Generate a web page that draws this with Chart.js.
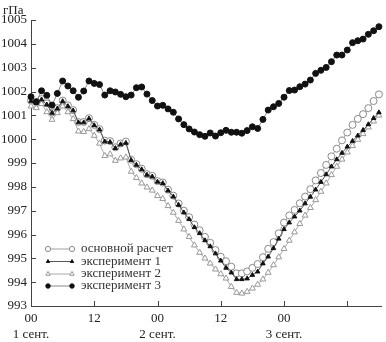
<!DOCTYPE html>
<html>
<head>
<meta charset="utf-8">
<script src="https://cdn.jsdelivr.net/npm/chart.js@4.4.0/dist/chart.umd.min.js"></script>
<style>
  html, body { margin: 0; padding: 0; background: #fff; }
  #wrap { position: relative; width: 386px; height: 342px; }
</style>
</head>
<body>
<div id="wrap"><canvas id="pressureChart"></canvas></div>
<script>
// hourly pressure (hPa), starting at 00 h on 1 Sept
var baseRun = [
  1001.62, 1001.55, 1001.68, 1001.50, 1001.12, 1001.30, 1001.62, 1001.42, 1001.22, 1000.72,
  1000.72, 1000.88, 1000.60, 1000.42, 999.94, 999.92, 999.66, 999.82, 999.90, 999.14,
  998.95, 998.76, 998.53, 998.46, 998.24, 998.18, 997.88, 997.63, 997.30, 997.00,
  996.73, 996.42, 996.18, 995.90, 995.65, 995.35, 995.07, 994.88, 994.65, 994.37,
  994.37, 994.45, 994.60, 994.76, 995.05, 995.40, 995.68, 996.05, 996.50, 996.80,
  997.03, 997.31, 997.59, 997.90, 998.27, 998.58, 998.92, 999.28, 999.60, 999.95,
  1000.28, 1000.60, 1000.85, 1001.05, 1001.30, 1001.60, 1001.88
];
var exp1 = [
  1001.60, 1001.52, 1001.66, 1001.45, 1001.10, 1001.28, 1001.59, 1001.38, 1001.20, 1000.70,
  1000.70, 1000.86, 1000.58, 1000.40, 999.90, 999.88, 999.62, 999.78, 999.84, 999.12,
  998.92, 998.73, 998.50, 998.43, 998.21, 998.15, 997.84, 997.59, 997.24, 996.92,
  996.64, 996.30, 996.05, 995.75, 995.50, 995.20, 994.90, 994.60, 994.40, 994.12,
  994.12, 994.15, 994.30, 994.44, 994.78, 995.07, 995.42, 995.82, 996.22, 996.50,
  996.75, 997.00, 997.30, 997.58, 997.88, 998.20, 998.52, 998.85, 999.15, 999.42,
  999.68, 999.92, 1000.15, 1000.38, 1000.62, 1000.88, 1001.12
];
var exp2 = [
  1001.38, 1001.31, 1001.48, 1001.14, 1000.82, 1001.10, 1001.38, 1001.14, 1000.85, 1000.33,
  1000.31, 1000.43, 1000.15, 999.82, 999.30, 999.37, 999.10, 999.20, 999.24, 998.64,
  998.38, 998.15, 997.98, 997.85, 997.62, 997.50, 997.20, 996.92, 996.58, 996.22,
  995.90, 995.55, 995.24, 995.00, 994.79, 994.54, 994.34, 994.16, 993.81, 993.56,
  993.53, 993.60, 993.74, 993.90, 994.12, 994.40, 994.72, 995.05, 995.40, 995.75,
  996.10, 996.45, 996.80, 997.12, 997.45, 997.80, 998.15, 998.50, 998.85, 999.15,
  999.45, 999.72, 999.98, 1000.22, 1000.50, 1000.75, 1001.00
];
var exp3 = [
  1001.78, 1001.57, 1002.03, 1001.84, 1001.43, 1001.92, 1002.44, 1002.23, 1002.03, 1001.76,
  1002.02, 1002.44, 1002.34, 1002.29, 1001.85, 1002.03, 1001.98, 1001.88, 1001.78, 1001.85,
  1002.16, 1002.19, 1001.89, 1001.62, 1001.39, 1001.42, 1001.27, 1001.13, 1000.85, 1000.61,
  1000.43, 1000.30, 1000.19, 1000.12, 1000.26, 1000.13, 1000.27, 1000.37, 1000.29, 1000.29,
  1000.25, 1000.36, 1000.52, 1000.45, 1000.83, 1001.22, 1001.36, 1001.50, 1001.76, 1002.04,
  1002.06, 1002.20, 1002.31, 1002.48, 1002.76, 1002.89, 1003.01, 1003.25, 1003.53, 1003.53,
  1003.74, 1004.05, 1004.13, 1004.20, 1004.40, 1004.55, 1004.72
];

var seriesNames = ['основной расчет', 'эксперимент 1', 'эксперимент 2', 'эксперимент 3'];
var tickHours = [0, 12, 24, 36, 48, 60];
var hourLabels = ['00', '12', '00', '12', '00', '12'];
var dayLabels = ['1 сент.', '', '2 сент.', '', '3 сент.', ''];
var unitLabel = 'гПа';

var serif = '"Liberation Serif", "Times New Roman", serif';
Chart.defaults.font.family = serif;
Chart.defaults.font.size = 13;
Chart.defaults.color = '#222';

function toPoints(values) {
  return values.map(function(v, i) { return { x: i, y: v }; });
}

// draws inward tick marks, unit label and the legend
var extras = {
  id: 'extras',
  afterDraw: function(chart) {
    var ctx = chart.ctx, area = chart.chartArea;
    var xs = chart.scales.x, ys = chart.scales.y;
    ctx.save();
    ctx.strokeStyle = '#444';
    ctx.lineWidth = 1;
    ctx.beginPath();
    tickHours.forEach(function(h) {
      var px = Math.round(xs.getPixelForValue(h)) + 0.5;
      ctx.moveTo(px, area.bottom);
      ctx.lineTo(px, area.bottom - 5);
    });
    ys.ticks.forEach(function(t) {
      var py = Math.round(ys.getPixelForValue(t.value)) + 0.5;
      ctx.moveTo(area.left, py);
      ctx.lineTo(area.left + 5, py);
    });
    ctx.stroke();

    ctx.fillStyle = '#222';
    ctx.font = '13px ' + serif;
    ctx.textBaseline = 'middle';
    ctx.fillText(unitLabel, 3, 11);

    var rowY = [249, 261.5, 274, 286];
    chart.data.datasets.forEach(function(ds, i) {
      var y = rowY[i];
      ctx.strokeStyle = ds.borderColor;
      ctx.lineWidth = 1;
      ctx.beginPath();
      ctx.moveTo(48, y);
      ctx.lineTo(72, y);
      ctx.stroke();
      [48, 72].forEach(function(x) {
        ctx.fillStyle = ds.pointBackgroundColor;
        ctx.strokeStyle = ds.pointBorderColor;
        Chart.helpers.drawPoint(ctx, {
          pointStyle: ds.pointStyle, radius: ds.pointRadius * 0.75,
          rotation: 0, borderWidth: 1
        }, x, y);
      });
      ctx.fillStyle = '#333';
      ctx.fillText(ds.label, 81, y);
    });
    ctx.restore();
  }
};

var ctx = document.getElementById('pressureChart').getContext('2d');
var pressureChart = new Chart(ctx, {
  type: 'line',
  data: {
    datasets: [{
      label: seriesNames[0],
      data: toPoints(baseRun),
      borderColor: '#a0a0a0',
      borderWidth: 1,
      pointStyle: 'circle',
      pointRadius: 3.5,
      pointBackgroundColor: '#fff',
      pointBorderColor: '#8a8a8a',
      pointBorderWidth: 1,
      order: 3
    }, {
      label: seriesNames[1],
      data: toPoints(exp1),
      borderColor: '#555',
      borderWidth: 1,
      pointStyle: 'triangle',
      pointRadius: 2.6,
      pointBackgroundColor: '#111',
      pointBorderColor: '#111',
      pointBorderWidth: 1,
      order: 1
    }, {
      label: seriesNames[2],
      data: toPoints(exp2),
      borderColor: '#aaa',
      borderWidth: 1,
      pointStyle: 'triangle',
      pointRadius: 3.4,
      pointBackgroundColor: '#fff',
      pointBorderColor: '#999',
      pointBorderWidth: 1,
      order: 2
    }, {
      label: seriesNames[3],
      data: toPoints(exp3),
      borderColor: '#888',
      borderWidth: 1,
      pointStyle: 'circle',
      pointRadius: 3,
      pointBackgroundColor: '#111',
      pointBorderColor: '#111',
      pointBorderWidth: 1,
      order: 0
    }]
  },
  options: {
    responsive: true,
    maintainAspectRatio: false,
    animation: false,
    devicePixelRatio: 1,
    layout: { padding: { top: 20, right: 0, left: 0, bottom: 0 } },
    elements: { line: { tension: 0 } },
    datasets: { line: { clip: false } },
    plugins: { legend: { display: false }, tooltip: { enabled: false } },
    scales: {
      x: {
        type: 'linear',
        min: 0,
        max: 66.4,
        afterFit: function(scale) { scale.height = 36; },
        grid: { display: false, drawTicks: false },
        border: { display: true, color: '#444', width: 1 },
        ticks: {
          stepSize: 12,
          autoSkip: false,
          maxRotation: 0,
          padding: 5,
          color: '#222',
          callback: function(value) {
            var idx = tickHours.indexOf(value);
            if (idx < 0) return '';
            return dayLabels[idx] ? [hourLabels[idx], dayLabels[idx]] : hourLabels[idx];
          }
        }
      },
      y: {
        min: 993,
        max: 1005,
        afterFit: function(scale) { scale.width = 31; },
        grid: { display: false, drawTicks: false },
        border: { display: true, color: '#444', width: 1 },
        ticks: {
          stepSize: 1,
          padding: 4,
          color: '#222',
          callback: function(value) { return String(value); }
        }
      }
    }
  },
  plugins: [extras]
});
</script>
</body>
</html>
